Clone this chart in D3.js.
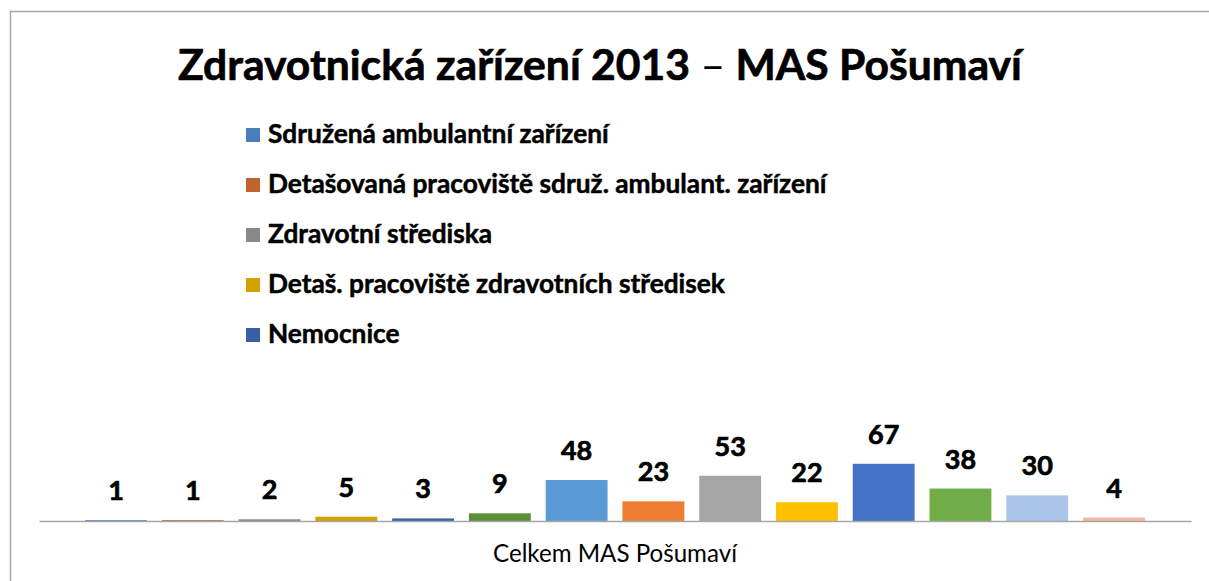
<!DOCTYPE html>
<html>
<head>
<meta charset="utf-8">
<script src="https://cdn.jsdelivr.net/npm/d3@7"></script>
<style>
  html, body { margin: 0; background: #fff; overflow: hidden; }
  svg { display: block; overflow: hidden; font-family: Lato, 'Open Sans', sans-serif; }
  .heavy { stroke: #000; stroke-width: 0.7px; stroke-linejoin: round; }
</style>
</head>
<body>
<div id="chart"></div>
<script>
// chart data
const title = 'Zdravotnická zařízení 2013';
const titleTail = 'MAS Pošumaví';
const category = 'Celkem MAS Pošumaví';
const seriesNames = [
  'Sdružená ambulantní zařízení',
  'Detašovaná pracoviště sdruž. ambulant. zařízení',
  'Zdravotní střediska',
  'Detaš. pracoviště zdravotních středisek',
  'Nemocnice'
];
const values = [1, 1, 2, 5, 3, 9, 48, 23, 53, 22, 67, 38, 30, 4];
const colors = [
  '#4a7ebb', '#c0622b', '#898989', '#d4a000', '#3a5da6', '#5a8e38',
  '#5b9bd5', '#ed7d31', '#a5a5a5', '#ffc000', '#4472c4', '#70ad47',
  '#a9c4e7', '#f4b8a0'
];

const width = 1209, height = 581;
const margin = {top: 0, right: 18, bottom: 60, left: 39};
const baseY = 521;

const svg = d3.select('#chart').append('svg')
  .attr('width', width)
  .attr('height', height);

// frame (only top and left edges fall inside the picture)
svg.append('path')
  .attr('d', 'M10.5,' + height + 'V11.5H' + width)
  .attr('fill', 'none')
  .attr('stroke', '#a6a6a6')
  .attr('stroke-width', 1.5);

// fit text to a width by measuring it
function fit(sel, target) {
  const len = sel.node().getComputedTextLength();
  const fs = parseFloat(sel.attr('font-size'));
  sel.attr('font-size', fs * target / len);
}

const t = svg.append('text')
  .attr('class', 'heavy')
  .attr('x', 600).attr('y', 80)
  .attr('text-anchor', 'middle')
  .attr('font-weight', 'bold')
  .attr('font-size', 38)
  .attr('fill', '#000');
t.append('tspan').text(title + ' ');
t.append('tspan').attr('font-weight', 'normal').style('stroke-width', 0).text('–');
t.append('tspan').text(' ' + titleTail);
fit(t, 844);

// scales
const x0 = d3.scaleBand()
  .domain([category])
  .range([margin.left, width - margin.right])
  .paddingInner(0.08)
  .paddingOuter(0.04);

const x1 = d3.scaleBand()
  .domain(d3.range(values.length))
  .range([x0(category), x0(category) + x0.bandwidth()])
  .paddingInner(0.194);

const y = d3.scaleLinear()
  .domain([0, 80])
  .range([baseY, baseY - 80 * 0.854]);

// bars
svg.append('g').selectAll('rect')
  .data(values)
  .join('rect')
  .attr('x', (d, i) => x1(i))
  .attr('width', x1.bandwidth())
  .attr('y', d => y(d))
  .attr('height', d => y(0) - y(d))
  .attr('fill', (d, i) => colors[i]);

// value labels
svg.append('g').selectAll('text')
  .data(values)
  .join('text')
  .attr('class', 'heavy')
  .attr('x', (d, i) => x1(i) + x1.bandwidth() / 2)
  .attr('y', d => y(d) - 20)
  .attr('text-anchor', 'middle')
  .attr('font-weight', 'bold')
  .attr('font-size', 27)
  .attr('fill', '#000')
  .text(d => d);

// category axis
const axis = svg.append('g')
  .attr('transform', 'translate(0,' + baseY + ')')
  .call(d3.axisBottom(x0).tickSize(0).tickSizeOuter(0).tickPadding(24));
axis.select('.domain').attr('stroke', '#a6a6a6').attr('stroke-width', 1.5);
axis.selectAll('.tick text')
  .attr('font-family', 'Lato, sans-serif')
  .attr('font-size', 19)
  .attr('fill', '#000');
fit(axis.select('.tick text'), 244);

// legend (only the first entries fit in the box)
const legend = svg.append('g');
seriesNames.forEach((name, i) => {
  const cy = 135 + i * 50;
  legend.append('rect')
    .attr('x', 246).attr('y', cy - 7)
    .attr('width', 14).attr('height', 14)
    .attr('fill', colors[i]);
  legend.append('text')
    .attr('class', 'lg heavy')
    .attr('x', 268).attr('y', cy + 7.5)
    .attr('font-weight', 'bold')
    .attr('font-size', 21)
    .attr('fill', '#000')
    .style('stroke-width', '0.5px')
    .text(name);
});
const first = legend.select('text.lg');
fit(first, 341);
legend.selectAll('text.lg').attr('font-size', first.attr('font-size'));
</script>
</body>
</html>
